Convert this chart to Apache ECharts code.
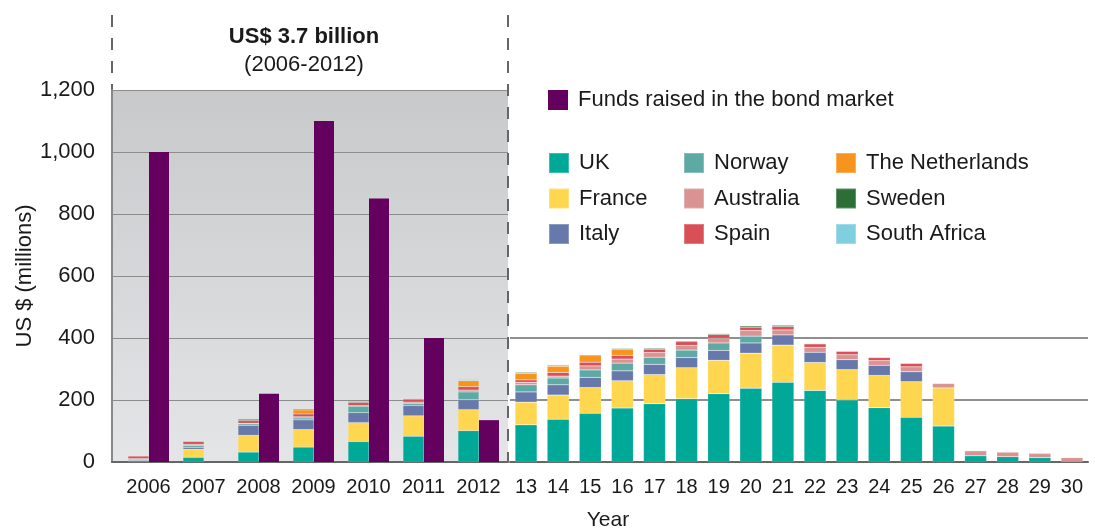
<!DOCTYPE html>
<html>
<head>
<meta charset="utf-8">
<script src="https://cdn.jsdelivr.net/npm/echarts@6/dist/echarts.min.js"></script>
<style>
  html, body { margin: 0; padding: 0; background: #fff; }
  #chart { width: 1095px; height: 528px; }
</style>
</head>
<body>
<div id="chart"></div>
<script>
// categories: 2006-2012 actuals, then projected years 13-30
const years = ["2006", "2007", "2008", "2009", "2010", "2011", "2012",
  "13", "14", "15", "16", "17", "18", "19", "20", "21", "22", "23", "24", "25", "26", "27", "28", "29", "30"];

// funds raised in the bond market (2006-2012 only)
const bondFunds = [1000, 0, 220, 1100, 850, 400, 135];

// country pledges, US$ millions, one value per category above
const uk = [0, 15, 32, 48, 66, 83, 101, 120, 138, 157, 174, 188, 204, 220, 238, 257, 231, 200, 175, 144, 116, 20, 17, 14, 0];
const france = [0, 26, 54, 57, 61, 66, 68, 73, 78, 83, 88, 94, 100, 108, 113, 120, 90, 98, 104, 115, 123, 0, 0, 0, 0];
const italy = [5, 6, 32, 31, 32, 33, 32, 33, 33, 33, 32, 33, 33, 32, 33, 33, 33, 32, 33, 32, 0, 0, 0, 0, 0];
const norway = [3, 6, 5, 6, 21, 6, 25, 23, 22, 24, 25, 23, 24, 24, 22, 0, 0, 0, 0, 0, 0, 0, 0, 0, 0];
const australia = [3, 4, 2, 4, 2, 5, 6, 8, 6, 13, 13, 15, 15, 15, 18, 16, 16, 16, 15, 16, 14, 16, 15, 14, 14];
const spain = [8, 9, 9, 9, 10, 10, 11, 8, 12, 12, 12, 11, 12, 12, 11, 11, 11, 11, 10, 11, 0, 0, 0, 0, 0];
const netherlands = [0, 0, 0, 13, 0, 0, 19, 21, 20, 21, 19, 0, 0, 0, 0, 0, 0, 0, 0, 0, 0, 0, 0, 0, 0];
const sweden = [0, 2, 4, 3, 3, 2, 2, 3, 3, 3, 3, 3, 3, 3, 4, 4, 0, 0, 0, 0, 0, 0, 0, 0, 0];
const southAfrica = [0, 2, 0, 0, 0, 1, 3, 0, 2, 0, 0, 0, 0, 0, 0, 0, 2, 2, 2, 2, 2, 2, 1, 2, 2];

const yTicks = [0, 200, 400, 600, 800, 1000, 1200];

const countries = [
  { name: "UK", data: uk, color: "#00a898" },
  { name: "France", data: france, color: "#ffd650" },
  { name: "Italy", data: italy, color: "#6779aa" },
  { name: "Norway", data: norway, color: "#5fa9a5" },
  { name: "Australia", data: australia, color: "#d99392" },
  { name: "Spain", data: spain, color: "#d84f57" },
  { name: "The Netherlands", data: netherlands, color: "#f7941e" },
  { name: "Sweden", data: sweden, color: "#2c6e36" },
  { name: "South Africa", data: southAfrica, color: "#7fcfe0" },
];
const bondName = "Funds raised in the bond market";

const FONT = "'Liberation Sans', Arial, sans-serif";
const TXT = "#1a1a1a";
const nz = (arr) => arr.map((v) => (v === 0 ? null : v));

let chart = echarts.init(document.getElementById("chart"));

let series = [];
countries.forEach((c) => {
  series.push({
    name: c.name,
    type: "bar",
    xAxisIndex: 1,
    yAxisIndex: 1,
    stack: "left",
    barWidth: 21,
    barGap: "0%",
    data: nz(c.data.slice(0, 7)),
    itemStyle: { color: c.color, borderColor: "rgba(255,255,255,0.25)", borderWidth: 0.5 },
  });
  series.push({
    name: c.name,
    type: "bar",
    xAxisIndex: 2,
    yAxisIndex: 2,
    stack: "right",
    barWidth: 22,
    data: nz(c.data.slice(7)),
    itemStyle: { color: c.color, borderColor: "rgba(255,255,255,0.25)", borderWidth: 0.5 },
  });
});
series.push({
  name: bondName,
  type: "bar",
  xAxisIndex: 1,
  yAxisIndex: 1,
  barWidth: 20,
  barGap: "0%",
  data: nz(bondFunds),
  itemStyle: { color: "#64005e" },
});

const legendBase = {
  orient: "vertical",
  icon: "rect",
  itemWidth: 20,
  itemHeight: 20,
  itemGap: 13.5,
  padding: 0,
  selectedMode: false,
  textStyle: { fontFamily: FONT, fontSize: 22, color: TXT, padding: [0, 0, 0, 5] },
};

let option = {
  animation: false,
  textStyle: { fontFamily: FONT },
  grid: [
    {
      left: 112, top: 90, width: 396, height: 372,
      show: true, borderWidth: 0,
      backgroundColor: new echarts.graphic.LinearGradient(0, 0, 0, 1, [
        { offset: 0, color: "#c8c9cb" },
        { offset: 1, color: "#e4e5e7" },
      ]),
    },
    { left: 121, top: 90, width: 385, height: 372 },
    { left: 510, top: 90, width: 578, height: 372 },
  ],
  xAxis: [
    {
      gridIndex: 0, type: "value", min: 0, max: 1,
      axisLine: { show: true, lineStyle: { color: "#666", width: 2 } },
      axisTick: { show: false }, axisLabel: { show: false }, splitLine: { show: false },
    },
    {
      gridIndex: 1, type: "category", data: years.slice(0, 7),
      axisLine: { show: false }, axisTick: { show: false },
      axisLabel: { interval: 0, fontSize: 20, color: TXT, margin: 15, fontFamily: FONT },
    },
    {
      gridIndex: 2, type: "category", data: years.slice(7),
      axisLine: { show: true, lineStyle: { color: "#666", width: 2 } },
      axisTick: { show: false },
      axisLabel: { interval: 0, fontSize: 20, color: TXT, margin: 15, fontFamily: FONT },
    },
  ],
  yAxis: [
    {
      gridIndex: 0, type: "value", min: 0, max: 1200, interval: 200,
      name: "US $ (millions)", nameLocation: "middle", nameGap: 70,
      nameTextStyle: { fontSize: 22, color: TXT, fontFamily: FONT },
      axisLine: { show: true, lineStyle: { color: "#888", width: 2 } },
      axisTick: { show: false },
      axisLabel: {
        fontSize: 22, color: TXT, margin: 17, fontFamily: FONT,
        formatter: (v) => v.toLocaleString("en-US"),
      },
      splitLine: { show: true, lineStyle: { color: "#8c8c8c", width: 1 } },
    },
    { gridIndex: 1, type: "value", min: 0, max: 1200, show: false, splitLine: { show: false } },
    {
      gridIndex: 2, type: "value", min: 0, max: 1200, interval: 200,
      axisLine: { show: false }, axisTick: { show: false }, axisLabel: { show: false },
      splitLine: {
        show: true,
        // only the 200 and 400 lines are drawn on the right side
        lineStyle: {
          width: 1.5,
          color: yTicks.map((t) => (t === 200 || t === 400 ? "#6a6a6a" : "rgba(0,0,0,0)")),
        },
      },
    },
  ],
  legend: [
    Object.assign({}, legendBase, { data: [bondName], left: 548, top: 89 }),
    Object.assign({}, legendBase, { data: ["UK", "France", "Italy"], left: 548, top: 152 }),
    Object.assign({}, legendBase, { data: ["Norway", "Australia", "Spain"], left: 683, top: 152 }),
    Object.assign({}, legendBase, { data: ["The Netherlands", "Sweden", "South Africa"], left: 835, top: 152 }),
  ],
  graphic: [
    {
      type: "line", silent: true,
      shape: { x1: 112, y1: 15, x2: 112, y2: 90 },
      style: { stroke: "#666", lineWidth: 2, lineDash: [12, 11] },
    },
    {
      type: "line", silent: true, z: 10,
      shape: { x1: 508, y1: 15, x2: 508, y2: 462 },
      style: { stroke: "#666", lineWidth: 2, lineDash: [12, 11] },
    },
    {
      type: "text", x: 304, y: 37,
      style: {
        text: "US$ 3.7 billion", fill: TXT, align: "center", verticalAlign: "middle",
        font: "bold 22px " + FONT,
      },
    },
    {
      type: "text", x: 304, y: 65,
      style: {
        text: "(2006-2012)", fill: TXT, align: "center", verticalAlign: "middle",
        font: "22px " + FONT,
      },
    },
    {
      type: "text", x: 608, y: 520,
      style: {
        text: "Year", fill: TXT, align: "center", verticalAlign: "middle",
        font: "21px " + FONT,
      },
    },
  ],
  series: series,
};

chart.setOption(option);
</script>
</body>
</html>
